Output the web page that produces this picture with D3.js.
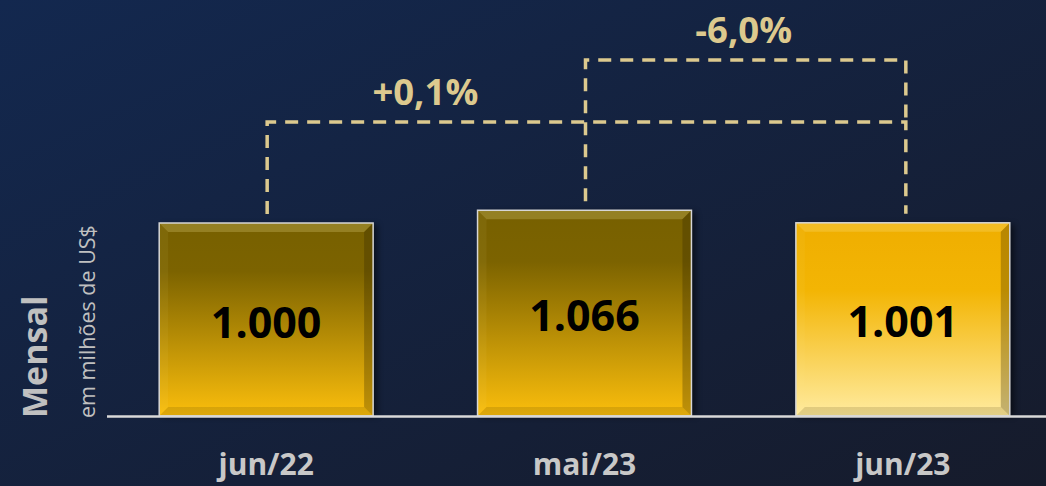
<!DOCTYPE html>
<html>
<head>
<meta charset="utf-8">
<script src="https://cdn.jsdelivr.net/npm/d3@7"></script>
<style>
  html, body { margin: 0; padding: 0; background: #141f3a; }
  svg { display: block; }
</style>
</head>
<body>
<div id="chart"></div>
<script>
// data
var categories = ["jun/22", "mai/23", "jun/23"];
var values = [1000, 1066, 1001];
var valueLabels = ["1.000", "1.066", "1.001"];
var highlight = [false, false, true];
// comparisons: from bar index -> to bar index, with their labels
var cmpFrom = [0, 1];
var cmpTo = [2, 2];
var cmpLabels = ["+0,1%", "-6,0%"];

const width = 1046, height = 486;
const baseY = 416;

const svg = d3.select("#chart").append("svg")
    .attr("width", width)
    .attr("height", height);

const defs = svg.append("defs");

// background gradient
var bg = defs.append("linearGradient").attr("id", "bg")
    .attr("x1", "0").attr("y1", "0").attr("x2", "1").attr("y2", "1");
bg.append("stop").attr("offset", "0").attr("stop-color", "#13284f");
bg.append("stop").attr("offset", "1").attr("stop-color", "#161b2b");

// bar gradients
var gDark = defs.append("linearGradient").attr("id", "barDark")
    .attr("x1", "0").attr("y1", "0").attr("x2", "0").attr("y2", "1");
gDark.append("stop").attr("offset", "0").attr("stop-color", "#776000");
gDark.append("stop").attr("offset", "0.25").attr("stop-color", "#7c6300");
gDark.append("stop").attr("offset", "1").attr("stop-color", "#fbbe0c");

var gLight = defs.append("linearGradient").attr("id", "barLight")
    .attr("x1", "0").attr("y1", "0").attr("x2", "0").attr("y2", "1");
gLight.append("stop").attr("offset", "0").attr("stop-color", "#efae00");
gLight.append("stop").attr("offset", "0.35").attr("stop-color", "#f3b504");
gLight.append("stop").attr("offset", "1").attr("stop-color", "#ffeb9f");

var blur = defs.append("filter").attr("id", "shadow")
    .attr("x", "-10%").attr("y", "-10%").attr("width", "130%").attr("height", "130%");
blur.append("feGaussianBlur").attr("stdDeviation", 3);

svg.append("rect")
    .attr("width", width).attr("height", height)
    .attr("fill", "url(#bg)");

// scales
var x = d3.scaleBand()
    .domain(categories)
    .range([107, 1062])
    .paddingInner(0.328)
    .paddingOuter(0.164);

var y = d3.scaleLinear()
    .domain([0, 1000])
    .range([baseY, 223]);

var bars = svg.append("g").selectAll("g")
    .data(values)
    .enter()
    .append("g")
    .attr("transform", function(d, i){ return "translate(" + x(categories[i]) + "," + y(d) + ")"; });

var bw = x.bandwidth();
var bev = 9;

// soft shadow on the right
bars.append("rect")
    .attr("x", 4).attr("y", 2)
    .attr("width", bw).attr("height", function(d){ return baseY - y(d) - 2; })
    .attr("fill", "#000").attr("opacity", 0.55)
    .attr("filter", "url(#shadow)");

bars.append("rect")
    .attr("width", bw)
    .attr("height", function(d){ return baseY - y(d); })
    .attr("fill", function(d, i){ return highlight[i] ? "url(#barLight)" : "url(#barDark)"; });

// bevels
function bevel(pts, fill, op){
    bars.append("polygon")
        .attr("points", function(d){
            var h = baseY - y(d);
            return pts(h).map(function(p){ return p.join(","); }).join(" ");
        })
        .attr("fill", fill)
        .attr("opacity", op);
}
bevel(function(h){ return [[0,0],[bw,0],[bw-bev,bev],[bev,bev]]; }, "#fff0a0", 0.22);
bevel(function(h){ return [[0,0],[bev,bev],[bev,h-bev],[0,h]]; }, "#fff0a0", 0.06);
bevel(function(h){ return [[bw,0],[bw,h],[bw-bev,h-bev],[bw-bev,bev]]; }, "#2a2000", 0.28);
bevel(function(h){ return [[0,h],[bev,h-bev],[bw-bev,h-bev],[bw,h]]; }, "#3a2c00", 0.15);

bars.append("rect")
    .attr("width", bw)
    .attr("height", function(d){ return baseY - y(d); })
    .attr("fill", "none")
    .attr("stroke", "#d6d6d6")
    .attr("stroke-width", 1.5);

// value labels
bars.append("text")
    .attr("x", bw / 2)
    .attr("y", function(d){ return (baseY - y(d)) / 2 + 18; })
    .attr("text-anchor", "middle")
    .style("font-family", "'Open Sans', sans-serif")
    .style("font-weight", "bold")
    .style("font-size", "43px")
    .attr("fill", "#000")
    .text(function(d, i){ return valueLabels[i]; });

// baseline
svg.append("line")
    .attr("x1", 107).attr("x2", width)
    .attr("y1", baseY + 0.5).attr("y2", baseY + 0.5)
    .attr("stroke", "#d9d9d9")
    .attr("stroke-width", 2.5);

// category labels
svg.selectAll(".cat")
    .data(categories)
    .enter()
    .append("text")
    .attr("class", "cat")
    .attr("x", function(d){ return x(d) + bw / 2; })
    .attr("y", 475)
    .attr("text-anchor", "middle")
    .style("font-family", "'Open Sans', sans-serif")
    .style("font-weight", "bold")
    .style("font-size", "30px")
    .attr("fill", "#c8c8c8")
    .text(function(d){ return d; });

// comparison brackets
var levels = [122, 60];
var cmp = svg.append("g");
cmpLabels.forEach(function(lab, k){
    var a = categories[cmpFrom[k]], b = categories[cmpTo[k]];
    var xa = x(a) + bw / 2 + 1, xb = x(b) + bw / 2 + 3;
    var ly = levels[k];
    // right leg stops where a lower bracket already runs down to the same bar
    var endB = y(values[cmpTo[k]]) - 9;
    for (var j = 0; j < k; j++) {
        if (cmpTo[j] === cmpTo[k]) endB = levels[j];
    }
    cmp.append("path")
        .attr("d", "M" + xa + "," + (y(values[cmpFrom[k]]) - 9) + "V" + ly + "H" + xb + "V" + endB)
        .attr("fill", "none")
        .attr("stroke", "#dcc98e")
        .attr("stroke-width", 3.5)
        .attr("stroke-dasharray", "13,9");
    var xm = (x(a) + x(categories[cmpFrom[k] + 1])) / 2 + bw / 2;
    cmp.append("text")
        .attr("x", xm)
        .attr("y", ly - 17)
        .attr("text-anchor", "middle")
        .style("font-family", "'Open Sans', sans-serif")
        .style("font-weight", "bold")
        .style("font-size", "36.5px")
        .attr("fill", "#dcc98e")
        .text(lab);
});

// axis title
svg.append("text")
    .attr("transform", "translate(47,418) rotate(-90)")
    .style("font-family", "'Open Sans', sans-serif")
    .style("font-weight", "bold")
    .style("font-size", "34px")
    .attr("fill", "#c0c0c0")
    .text("Mensal");

svg.append("text")
    .attr("transform", "translate(95,418) rotate(-90)")
    .style("font-family", "'Open Sans', sans-serif")
    .style("font-size", "21.5px")
    .attr("fill", "#c0c0c0")
    .text("em milhões de US$");
</script>
</body>
</html>
